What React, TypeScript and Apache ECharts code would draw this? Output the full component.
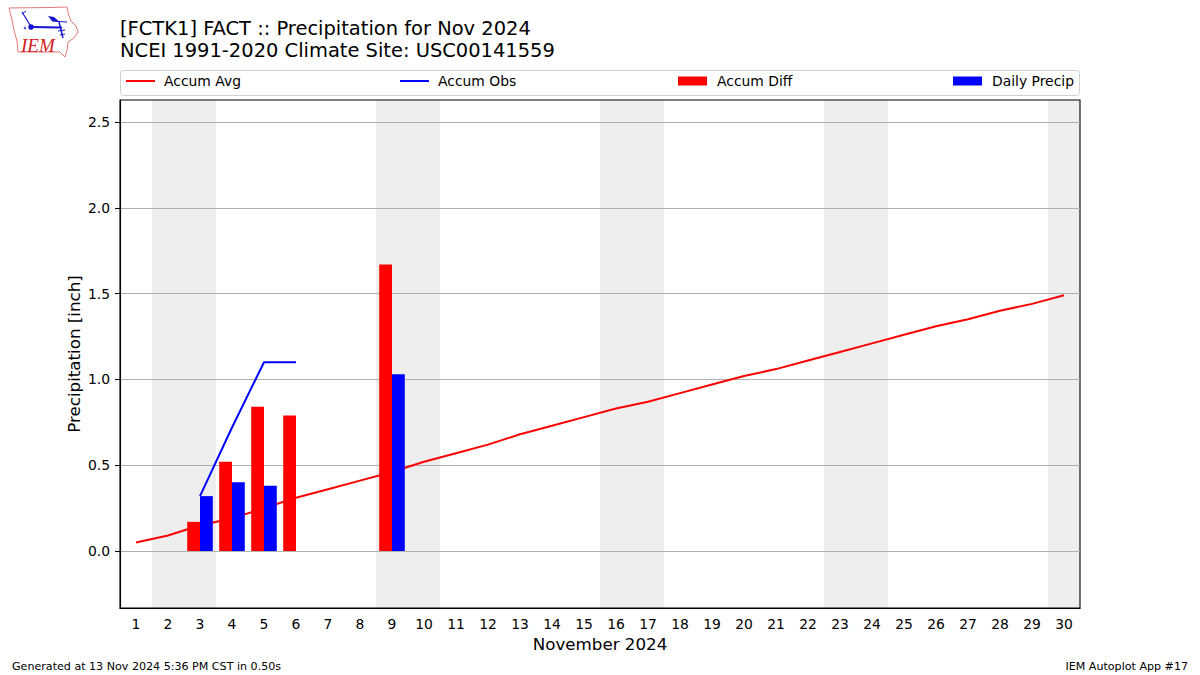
import React, { useEffect, useRef } from "react";
import * as echarts from "echarts";

const days = Array.from({ length: 30 }, (_, i) => String(i + 1));
const accumAvg = [0.05, 0.09, 0.15, 0.19, 0.25, 0.31, 0.36, 0.41, 0.46, 0.52, 0.57, 0.62, 0.68, 0.73, 0.78, 0.83, 0.87, 0.92, 0.97, 1.02, 1.06, 1.11, 1.16, 1.21, 1.26, 1.31, 1.35, 1.40, 1.44, 1.49];
const accumObs: (number | null)[] = [null, null, 0.32, 0.72, 1.10, 1.10];
const accumDiff: (number | null)[] = [null, null, 0.17, 0.52, 0.84, 0.79, null, null, 1.67];
const dailyPrecip: (number | null)[] = [null, null, 0.32, 0.40, 0.38, null, null, null, 1.03];
const weekendBands = [[1.5, 3.5], [8.5, 10.5], [15.5, 17.5], [22.5, 24.5], [29.5, 30.5]];
const yTicks = [0, 0.5, 1, 1.5, 2, 2.5];

const FONT = "DejaVu Sans";
const legendItem = (name: string, left: number, top: number, h: number, gap: number) => ({
  show: true, data: [{ name, icon: "rect" }], left, top, orient: "horizontal" as const, padding: 0,
  itemWidth: 29, itemHeight: h, itemGap: 0, selectedMode: false,
  textStyle: { fontFamily: FONT, fontSize: 13.9, color: "#000", padding: [0, 0, 0, gap] },
});

export default function App() {
  const ref = useRef<HTMLDivElement>(null);
  useEffect(() => {
    if (!ref.current) return;
    const chart = echarts.init(ref.current, undefined, { renderer: "svg" });
    chart.setOption({
      animation: false,
      backgroundColor: "#fff",
      textStyle: { fontFamily: FONT },
      title: [
        { text: "[FCTK1] FACT :: Precipitation for Nov 2024\nNCEI 1991-2020 Climate Site: USC00141559", left: 120, top: 18, padding: 0, textStyle: { fontFamily: FONT, fontSize: 19.47, fontWeight: "normal", color: "#000", lineHeight: 21.5 } },
        { text: "Generated at 13 Nov 2024 5:36 PM CST in 0.50s", left: 12, top: 661, padding: 0, textStyle: { fontFamily: FONT, fontSize: 11.1, fontWeight: "normal", color: "#000" } },
        { text: "IEM Autoplot App #17", right: 12, top: 661, padding: 0, textStyle: { fontFamily: FONT, fontSize: 11.1, fontWeight: "normal", color: "#000" } },
      ],
      legend: [
        legendItem("Accum Avg", 126, 74, 2, 4),
        legendItem("Accum Obs", 400, 74, 2, 4),
        legendItem("Accum Diff", 678, 74, 9, 5),
        legendItem("Daily Precip", 953, 74, 9, 5),
      ],
      grid: { left: 120, right: 120, top: 100, bottom: 67, containLabel: false, show: true, borderColor: "#000", borderWidth: 1.1, backgroundColor: "transparent" },
      xAxis: [
        {
          type: "category", data: days, boundaryGap: true,
          axisTick: { alignWithLabel: true, length: 5, lineStyle: { color: "#000", width: 1.1 } },
          axisLine: { onZero: false, lineStyle: { color: "#000", width: 1.1 } },
          axisLabel: { interval: 0, color: "#000", fontSize: 13.9, fontFamily: FONT, margin: 9 },
          splitLine: { show: false },
          name: "November 2024", nameLocation: "middle", nameGap: 27,
          nameTextStyle: { color: "#000", fontSize: 16.7, fontFamily: FONT },
        },
        { type: "value", min: 0.5, max: 30.5, show: false, splitLine: { show: false } },
      ],
      yAxis: {
        type: "value", min: -0.332, max: 2.628,
        axisLine: { show: true, lineStyle: { color: "#000", width: 1.1 } },
        axisTick: { show: true, length: 5, lineStyle: { color: "#000", width: 1.1 }, customValues: yTicks },
        axisLabel: { color: "#000", fontSize: 13.9, fontFamily: FONT, margin: 10, customValues: yTicks, formatter: (v: number) => v.toFixed(1) },
        splitLine: { show: true, lineStyle: { color: "#b0b0b0", width: 1.1, type: "solid" } },
        name: "Precipitation [inch]", nameLocation: "middle", nameGap: 38, nameMoveOverlap: false,
        nameTextStyle: { color: "#000", fontSize: 16.7, fontFamily: FONT },
      },
      graphic: [
        { type: "rect", silent: true, z: -10, shape: { x: 120.5, y: 70.5, width: 959, height: 25, r: 3 }, style: { fill: "#fff", stroke: "#d0d0d0", lineWidth: 1 } },
        {
          type: "group", silent: true, children: [
            { type: "polygon", shape: { points: [[9, 8], [50, 7.5], [67, 7], [68, 13], [71, 21], [76, 26], [78, 32], [74, 38], [68, 42], [67, 50], [65, 57], [60, 52], [18, 52], [17, 41], [14, 30], [12, 20]] }, style: { fill: "#fff", stroke: "#e27a7a", lineWidth: 1 } },
            { type: "line", shape: { x1: 31, y1: 27, x2: 62, y2: 27.5 }, style: { stroke: "#1414d2", lineWidth: 2 } },
            { type: "line", shape: { x1: 30, y1: 25, x2: 22, y2: 12 }, style: { stroke: "#1414d2", lineWidth: 1.2 } },
            { type: "line", shape: { x1: 22, y1: 14, x2: 26, y2: 11 }, style: { stroke: "#1414d2", lineWidth: 1 } },
            { type: "circle", shape: { cx: 31, cy: 27, r: 2.8 }, style: { fill: "#1414d2" } },
            { type: "polygon", shape: { points: [[48, 16], [54, 17], [59, 21.5], [52, 21]] }, style: { fill: "#1414d2" } },
            { type: "line", shape: { x1: 52, y1: 21, x2: 67, y2: 22 }, style: { stroke: "#1414d2", lineWidth: 1 } },
            { type: "line", shape: { x1: 59, y1: 22, x2: 63, y2: 38 }, style: { stroke: "#1414d2", lineWidth: 1.4 } },
            { type: "line", shape: { x1: 58, y1: 31, x2: 65, y2: 30 }, style: { stroke: "#1414d2", lineWidth: 1 } },
            { type: "line", shape: { x1: 60, y1: 35, x2: 65, y2: 34 }, style: { stroke: "#1414d2", lineWidth: 1 } },
            { type: "polygon", shape: { points: [[25, 26], [26.5, 29], [23.5, 29]] }, style: { fill: "#4444cc" } },
            { type: "text", x: 21, y: 36, style: { text: "IEM", fill: "#d02020", fontFamily: "Liberation Serif", fontStyle: "italic", fontSize: 19 } },
          ],
        },
      ],
      series: [
        {
          name: "Weekend", type: "custom", xAxisIndex: 1, yAxisIndex: 0, z: -1, silent: true,
          data: weekendBands, encode: { x: [0, 1] },
          renderItem: (_p: any, api: any) => {
            const a = api.coord([api.value(0), 0]);
            const b = api.coord([api.value(1), 0]);
            const cs = _p.coordSys;
            return { type: "rect", shape: { x: a[0], y: cs.y, width: b[0] - a[0], height: cs.height }, style: { fill: "#eeeeee" } };
          },
        },
        { name: "Accum Diff", type: "bar", data: accumDiff, barWidth: "40%", barGap: "0%", itemStyle: { color: "#ff0000" }, z: 3 },
        { name: "Daily Precip", type: "bar", data: dailyPrecip, barWidth: "40%", barGap: "0%", itemStyle: { color: "#0000ff" }, z: 3 },
        { name: "Accum Avg", type: "line", data: accumAvg, showSymbol: false, symbol: "none", lineStyle: { color: "#ff0000", width: 2 }, itemStyle: { color: "#ff0000" }, z: 2 },
        { name: "Accum Obs", type: "line", data: accumObs, showSymbol: false, symbol: "none", lineStyle: { color: "#0000ff", width: 2 }, itemStyle: { color: "#0000ff" }, z: 2 },
      ],
    });
    return () => chart.dispose();
  }, []);
  return <div ref={ref} style={{ width: 1200, height: 675, position: "fixed", left: 0, top: 0 }} />;
}
